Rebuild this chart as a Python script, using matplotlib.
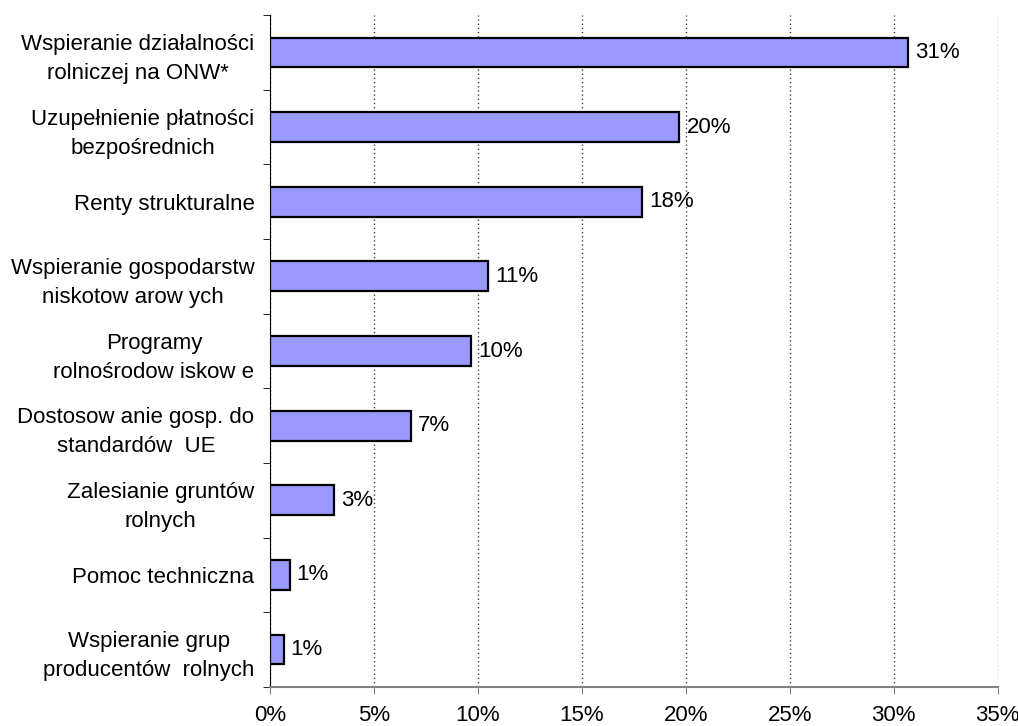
import numpy as np
import matplotlib
matplotlib.use('Agg')
import matplotlib.pyplot as plt
from matplotlib.ticker import FuncFormatter

plt.rcParams['font.family'] = ['Liberation Sans', 'DejaVu Sans']

categories = ['Wspieranie działalności\nrolniczej na ONW*',
              'Uzupełnienie płatności\nbezpośrednich',
              'Renty strukturalne',
              'Wspieranie gospodarstw\nniskotow arow ych',
              'Programy\nrolnośrodow iskow e',
              'Dostosow anie gosp. do\nstandardów  UE',
              'Zalesianie gruntów\nrolnych',
              'Pomoc techniczna',
              'Wspieranie grup\nproducentów  rolnych']
values = [30.7, 19.7, 17.9, 10.5, 9.7, 6.8, 3.1, 0.96, 0.67]
x_ticks = [0, 5, 10, 15, 20, 25, 30, 35]

fs = 16

fig = plt.figure(figsize=(10.18, 7.26), dpi=100)
ax = fig.add_axes([0.265, 0.054, 0.715, 0.925])

y = np.arange(len(categories))
ax.barh(y, values, height=0.4, color='#9999FF', edgecolor='black', linewidth=1.6, zorder=3)

for yi, v in zip(y, values):
    ax.annotate('%d%%' % int(v + 0.5), (v, yi), xytext=(5, 0), textcoords='offset points',
                ha='left', va='center', fontsize=fs, zorder=4)

ax.set_xlim(0, 35)
ax.set_ylim(len(categories) - 0.5, -0.5)
ax.set_xticks(x_ticks)
ax.xaxis.set_major_formatter(FuncFormatter(lambda v, p: '%d%%' % v))
ax.tick_params(axis='x', labelsize=fs, length=5, color='#808080', pad=8)
ax.grid(axis='x', linestyle=(0, (1, 2)), color='#404040', linewidth=1, zorder=0)

ax.set_yticks(y)
ax.set_yticklabels(categories, fontsize=fs, ha='right', multialignment='center',
                   linespacing=1.5)
ax.tick_params(axis='y', which='major', length=0, pad=11)
ax.set_yticks(np.arange(len(categories) + 1) - 0.5, minor=True)
ax.tick_params(axis='y', which='minor', length=5, color='black')

ax.spines['top'].set_visible(False)
ax.spines['right'].set_visible(False)
ax.spines['left'].set_color('black')
ax.spines['bottom'].set_color('#808080')
ax.spines['bottom'].set_linewidth(1.5)

plt.savefig('out.png', dpi=100)
